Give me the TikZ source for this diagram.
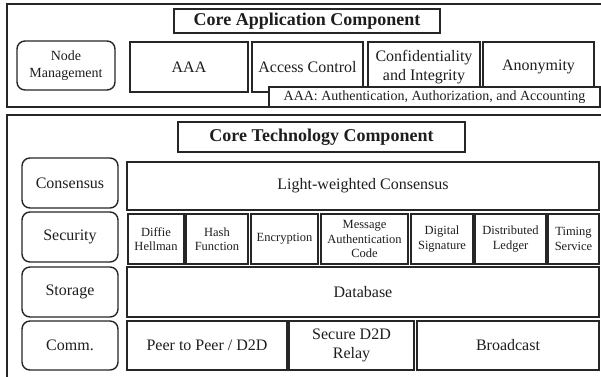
\documentclass[tikz,border=0pt]{standalone}
\usepackage{fontspec}
\setmainfont{Liberation Serif}
\definecolor{linec}{HTML}{262626}
\definecolor{textc}{HTML}{1E1E1E}
% \cell{style}{name}{x1}{y1}{x2}{y2}{text}: a node spanning the given corners
\newcommand\cell[7]{%
  \pgfmathsetmacro\cellx{(#3+#5)/2}%
  \pgfmathsetmacro\celly{(#4+#6)/2}%
  \pgfmathsetmacro\cellw{#5-#3}%
  \pgfmathsetmacro\cellh{#6-#4}%
  \node[#1, minimum width=\cellw pt, minimum height=\cellh pt] (#2) at (\cellx,\celly) {#7};}
\begin{document}
\begin{tikzpicture}[x=1pt,y=-1pt,
  box/.style={draw=linec, line width=1.4pt, fill=white, inner sep=0pt, align=center,
    text=textc, font=\fontsize{16}{18.5}\selectfont},
  rbox/.style={box, rounded corners=8pt},
  frame/.style={draw=linec, line width=1.8pt, inner sep=0pt},
  titlebox/.style={box, line width=1.6pt, font=\fontsize{18}{20}\selectfont\bfseries},
  small/.style={font=\fontsize{12.5}{14.5}\selectfont},
  mid/.style={font=\fontsize{14}{17}\selectfont}]
\clip (0,0) rectangle (601,376);
\fill[white] (0,0) rectangle (601,376);

% application layer
\cell{frame}{appframe}{7}{4}{612}{107}{}
\cell{titlebox}{apptitle}{174}{9}{440}{33}{Core Application Component}
\cell{rbox, mid}{nodemgmt}{17}{41}{115}{90}{Node\\Management}
\cell{box}{aaa}{130}{42}{248}{92}{AAA}
\cell{box}{access}{252}{42}{363}{92}{Access Control}
\cell{box}{conf}{368}{42}{480}{92}{Confidentiality\\and Integrity}
\cell{box}{anon}{483}{42}{594}{92}{Anonymity}
\cell{box, mid}{aaanote}{269}{87}{600}{107}{AAA: Authentication, Authorization, and Accounting}

% technology layer
\cell{frame}{techframe}{7}{115}{612}{390}{}
\cell{titlebox}{techtitle}{178}{122}{465}{152}{Core Technology Component}

\cell{rbox}{consensus}{22}{158}{118}{208}{Consensus}
\cell{box}{light}{127}{162}{599}{210}{Light-weighted Consensus}

\cell{rbox}{security}{22}{212}{118}{262}{Security}
\cell{box, small}{diffie}{128}{214}{184}{264}{Diffie\\Hellman}
\cell{box, small}{hash}{186}{214}{248}{264}{Hash\\Function}
\cell{box, small}{encr}{251}{214}{318}{264}{Encryption}
\cell{box, small}{mac}{321}{214}{408}{264}{Message\\Authentication\\Code}
\cell{box, small}{dsig}{411}{214}{473}{264}{Digital\\Signature}
\cell{box, small}{ledger}{475}{214}{546}{264}{Distributed\\Ledger}
\cell{box, small}{timing}{548}{214}{599}{264}{Timing\\Service}

\cell{rbox}{storage}{22}{267}{118}{317}{Storage}
\cell{box}{database}{127}{267}{599}{317}{Database}

\cell{rbox}{comm}{22}{321}{118}{370}{Comm.}
\cell{box}{p2p}{127}{321}{287}{370}{Peer to Peer / D2D}
\cell{box}{relay}{289}{321}{414}{370}{Secure D2D\\Relay}
\cell{box}{broadcast}{417}{321}{599}{370}{Broadcast}
\end{tikzpicture}
\end{document}
